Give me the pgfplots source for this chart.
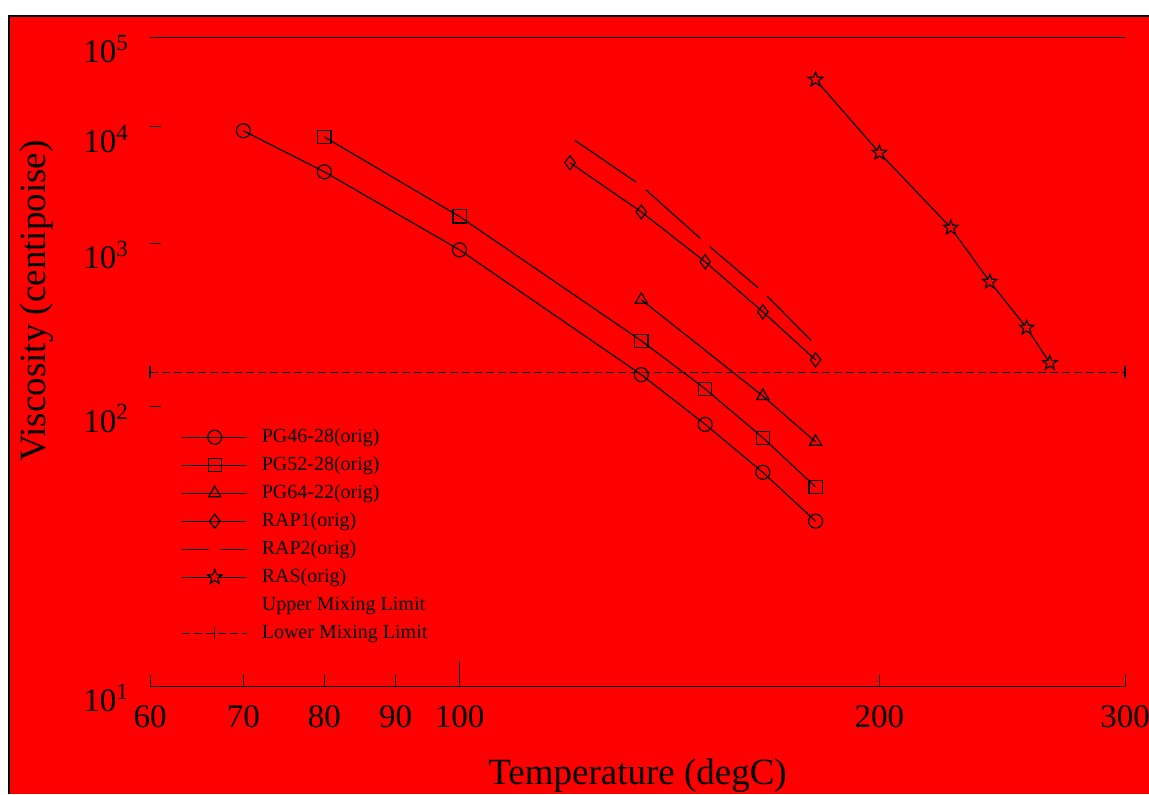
\documentclass[border=0pt]{standalone}
\usepackage{fontspec}
\setmainfont{Liberation Serif}
\usepackage{pgfplots}
\pgfplotsset{compat=1.18}

% open five-point star
\pgfdeclareplotmark{ostar}{%
  \pgfpathmoveto{\pgfpointpolar{90}{\pgfplotmarksize}}%
  \pgfpathlineto{\pgfpointpolar{126}{0.42\pgfplotmarksize}}%
  \pgfpathlineto{\pgfpointpolar{162}{\pgfplotmarksize}}%
  \pgfpathlineto{\pgfpointpolar{198}{0.42\pgfplotmarksize}}%
  \pgfpathlineto{\pgfpointpolar{234}{\pgfplotmarksize}}%
  \pgfpathlineto{\pgfpointpolar{270}{0.42\pgfplotmarksize}}%
  \pgfpathlineto{\pgfpointpolar{306}{\pgfplotmarksize}}%
  \pgfpathlineto{\pgfpointpolar{342}{0.42\pgfplotmarksize}}%
  \pgfpathlineto{\pgfpointpolar{18}{\pgfplotmarksize}}%
  \pgfpathlineto{\pgfpointpolar{54}{0.42\pgfplotmarksize}}%
  \pgfpathclose
  \pgfusepathqfillstroke
}

\begin{document}
\begin{tikzpicture}
\fill[red] (4.5pt,-8pt) rectangle (574.5pt,-397pt);
\draw[black, line width=1pt] (4.5pt,-397pt) -- (4.5pt,-8pt) -- (574.5pt,-8pt);

\begin{axis}[
    at={(75pt,-343pt)}, anchor=south west,
    scale only axis, width=487.5pt, height=324.5pt,
    xmode=log, xmin=60, xmax=300,
    xtick={60,70,80,90,100,200,300},
    xticklabels={60,70,80,90,100,200,300},
    extra x ticks={100}, extra x tick labels={},
    extra x tick style={major tick length=12.5pt},
    ymin=10, ymax=100000,
    % ASTM style log-log viscosity scale
    y coord trafo/.code={\begingroup\pgfkeys{/pgf/fpu=true,/pgf/fpu/output format=fixed}\pgfmathparse{log10(log10(#1))}\pgfmathsmuggle\pgfmathresult\endgroup},
    y coord inv trafo/.code={\begingroup\pgfkeys{/pgf/fpu=true,/pgf/fpu/output format=fixed}\pgfmathparse{10^(10^(#1))}\pgfmathsmuggle\pgfmathresult\endgroup},
    ytick={10,100,1000,10000,100000},
    yticklabels={10\textsuperscript{1},10\textsuperscript{2},10\textsuperscript{3},10\textsuperscript{4},10\textsuperscript{5}},
    tick align=inside, xtick pos=left, ytick pos=left,
    major tick length=5.5pt, minor tick num=0,
    tick style={black, line width=0.5pt},
    axis line style={draw=none},
    ticklabel style={font=\fontsize{16.5}{18}\selectfont},
    xticklabel style={yshift=-6pt},
    yticklabel style={xshift=-7pt, yshift=-6pt},
    xlabel={Temperature (degC)},
    ylabel={Viscosity (centipoise)},
    label style={font=\fontsize{18.5}{22}\selectfont},
    xlabel style={at={(rel axis cs:0.5,-0.1525)}, anchor=base},
    ylabel style={at={(rel axis cs:-0.116,0.593)}, anchor=center},
    legend style={at={(rel axis cs:0.032,0.404)}, anchor=north west,
        draw=none, fill=none, inner sep=0pt, row sep=1pt,
        font=\fontsize{10}{12}\selectfont,
        nodes={inner sep=2pt, text height=7pt, text depth=2pt},
        /tikz/every odd column/.append style={column sep=5pt}},
    legend cell align=left,
    legend image code/.code={\draw[mark repeat=2,mark phase=2,#1] plot coordinates {(0pt,0pt) (16.25pt,0pt) (32.5pt,0pt)};},
    every axis plot/.append style={line width=0.6pt},
]
% upper mixing limit (drawn in the background colour)
\addplot[red, forget plot] coordinates {(60,190) (300,190)};

\addplot[black, mark=o, mark size=3.5pt, mark options={fill=red}]
    coordinates {(70,9200) (80,3800) (100,890) (135,146) (150,82) (165,50) (180,32)};
\addplot[black, mark=square, mark size=3.3pt, mark options={fill=red}]
    coordinates {(80,8000) (100,1600) (135,226) (150,123) (165,71) (180,43.5)};
\addplot[black, mark=triangle, mark size=3.5pt, mark options={fill=red}]
    coordinates {(135,404) (165,113) (180,68)};
\addplot[black, mark=diamond, mark size=3.5pt, mark options={fill=red}]
    coordinates {(120,4580) (135,1740) (150,730) (165,338) (180,176)};
\addplot[black, mark=*, mark size=2.8pt, mark options={draw=red, fill=red}]
    coordinates {(120,8000) (135,2870) (150,1005) (165,455) (180,214)};
\addplot[black, mark=ostar, mark size=3.8pt, mark options={fill=red}]
    coordinates {(180,31500) (200,5660) (225,1306) (240,531) (255,270) (265,169)};
\addlegendimage{red, line width=0.6pt}
\addplot[black, dash pattern=on 4pt off 2pt, mark=|, mark size=3pt, mark options={solid}]
    coordinates {(60,150) (300,150)};

\legend{PG46-28(orig),PG52-28(orig),PG64-22(orig),RAP1(orig),RAP2(orig),RAS(orig),Upper Mixing Limit,Lower Mixing Limit}

\draw[black, line width=0.5pt] (rel axis cs:0,1) -- (rel axis cs:1,1) -- (rel axis cs:1,0) -- (rel axis cs:0,0);
\end{axis}

\pgfresetboundingbox
\useasboundingbox (0,0) rectangle (574.5pt,-397pt);
\end{tikzpicture}
\end{document}
